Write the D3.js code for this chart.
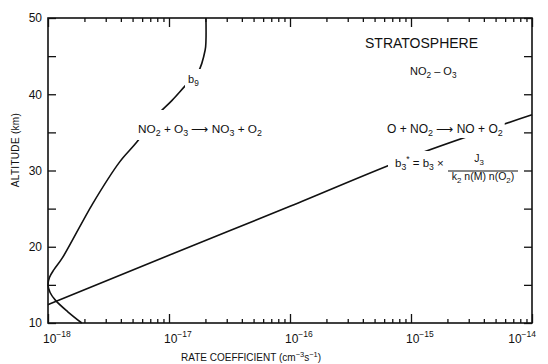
<!DOCTYPE html>
<html>
<head>
<meta charset="utf-8">
<script src="https://cdn.jsdelivr.net/npm/d3@7"></script>
<style>
  html, body { margin: 0; padding: 0; background: #fff; }
  svg { display: block; }
  text { font-family: "Liberation Sans", Arial, sans-serif; fill: #111; }
</style>
</head>
<body>
<svg id="chart" width="548" height="364"></svg>
<script>
// ---------------- data ----------------
// rate coefficient axis (log) decades
const decadeExponents = [-18, -17, -16, -15, -14];
const altitudeTicks = [10, 15, 20, 25, 30, 35, 40, 45, 50];
const altitudeLabels = [10, 20, 30, 40, 50];

// b9 : NO2 + O3 -> NO3 + O2 (rate, altitude km)
const b9Rate = [2.02e-17, 2.02e-17, 1.99e-17, 1.74e-17, 1.36e-17, 1.06e-17, 7.7e-18, 5.4e-18, 3.9e-18, 2.35e-18, 1.31e-18, 1.12e-18, 1.03e-18, 1.0e-18, 1.04e-18, 1.15e-18, 1.45e-18, 1.9e-18];
const b9Alt  = [50, 47, 45.8, 42.9, 41.1, 39.2, 37.0, 33.7, 31.1, 25.7, 18.5, 17.0, 16.0, 15.0, 14.0, 13.0, 11.5, 10];

// b3* effective rate (rate, altitude km)
const b3Rate = [1e-18, 1e-17, 1e-16, 1e-15, 1e-14];
const b3Alt  = [12.4, 18.9, 25.3, 31.8, 37.3];

// ---------------- layout ----------------
const svg = d3.select("#chart");
const L = 48, R = 532, T = 18, B = 323;

const x = d3.scaleLog().domain([1e-18, 1e-14]).range([L, R]);
const y = d3.scaleLinear().domain([10, 50]).range([B, T]);

const majors = decadeExponents.map(e => Math.pow(10, e));
const minors = [];
decadeExponents.slice(0, -1).forEach(e => {
  for (let k = 2; k <= 9; k++) minors.push(k * Math.pow(10, e));
});

function styleAxis(g) {
  g.selectAll("path.domain").remove();
  g.selectAll(".tick line").attr("stroke", "#111").attr("stroke-width", 1.3);
}

// bottom axis
svg.append("g").attr("transform", `translate(0,${B})`)
  .call(d3.axisBottom(x).tickValues(majors).tickSize(-9).tickFormat(""))
  .call(styleAxis);
svg.append("g").attr("transform", `translate(0,${B})`)
  .call(d3.axisBottom(x).tickValues(minors).tickSize(-4).tickFormat(""))
  .call(styleAxis);
// top axis
svg.append("g").attr("transform", `translate(0,${T})`)
  .call(d3.axisTop(x).tickValues(majors).tickSize(-9).tickFormat(""))
  .call(styleAxis);
svg.append("g").attr("transform", `translate(0,${T})`)
  .call(d3.axisTop(x).tickValues(minors).tickSize(-4).tickFormat(""))
  .call(styleAxis);
// left axis
const leftAxis = svg.append("g").attr("transform", `translate(${L},0)`)
  .call(d3.axisLeft(y).tickValues(altitudeTicks).tickSize(-8).tickPadding(6)
    .tickFormat(d => altitudeLabels.includes(d) ? d : ""))
  .call(styleAxis);
leftAxis.selectAll("text").attr("font-size", 12).attr("fill", "#111")
  .attr("font-family", "Liberation Sans, Arial, sans-serif");
// right axis
svg.append("g").attr("transform", `translate(${R},0)`)
  .call(d3.axisRight(y).tickValues(altitudeTicks).tickSize(-8).tickFormat(""))
  .call(styleAxis);

// frame
svg.append("rect").attr("x", L).attr("y", T).attr("width", R - L).attr("height", B - T)
  .attr("fill", "none").attr("stroke", "#111").attr("stroke-width", 1.6);

// x tick labels 10^n
decadeExponents.forEach((e, i) => {
  const last = i === decadeExponents.length - 1;
  const t = svg.append("text")
    .attr("x", x(Math.pow(10, e)) + (last ? 4 : -5))
    .attr("y", 343)
    .attr("font-size", 12)
    .attr("text-anchor", last ? "end" : "start");
  t.append("tspan").text("10");
  t.append("tspan").attr("font-size", 8.5).attr("dy", -6).text("\u2212" + Math.abs(e));
});

// axis titles
const xt = svg.append("text").attr("x", 181).attr("y", 361).attr("font-size", 10);
xt.append("tspan").text("RATE COEFFICIENT  (cm");
xt.append("tspan").attr("font-size", 7.5).attr("dy", -4).text("\u22123");
xt.append("tspan").attr("dy", 4).text("s");
xt.append("tspan").attr("font-size", 7.5).attr("dy", -4).text("\u22121");
xt.append("tspan").attr("dy", 4).text(")");

svg.append("text").attr("transform", "translate(19,150) rotate(-90)")
  .attr("text-anchor", "middle").attr("font-size", 10).attr("letter-spacing", 0.3)
  .text("ALTITUDE (km)");

// ---------------- curves ----------------
const curves = svg.append("g");
curves.append("path")
  .datum(b9Rate.map((r, i) => [r, b9Alt[i]]))
  .attr("d", d3.line().x(d => x(d[0])).y(d => y(d[1])).curve(d3.curveCatmullRom.alpha(0.5)))
  .attr("fill", "none").attr("stroke", "#111").attr("stroke-width", 1.6);
curves.append("path")
  .datum(b3Rate.map((r, i) => [r, b3Alt[i]]))
  .attr("d", d3.line().x(d => x(d[0])).y(d => y(d[1])).curve(d3.curveMonotoneX))
  .attr("fill", "none").attr("stroke", "#111").attr("stroke-width", 1.6);

// ---------------- labels (with white knock-out behind) ----------------
const masks = svg.append("g");
const labels = svg.append("g");

function richText(px, py, size, segs, pad, anchor) {
  const t = labels.append("text").attr("x", px).attr("y", py).attr("font-size", size);
  if (anchor) t.attr("text-anchor", anchor);
  let shift = 0;
  segs.forEach(s => {
    const [str, kind] = s;
    const target = kind === "sub" ? 3 : kind === "sup" ? -5 : 0;
    const ts = t.append("tspan").text(str).attr("dy", target - shift);
    if (kind) ts.attr("font-size", size * 0.75);
    shift = target;
  });
  if (pad) {
    const bb = t.node().getBBox();
    masks.append("rect")
      .attr("x", bb.x - pad[3]).attr("y", bb.y - pad[0])
      .attr("width", bb.width + pad[1] + pad[3]).attr("height", bb.height + pad[0] + pad[2])
      .attr("fill", "#fff");
  }
  return t;
}

richText(365, 48, 14, [["STRATOSPHERE"]]);
richText(410, 75, 11, [["NO"], ["2", "sub"], [" \u2013 O"], ["3", "sub"]]);
richText(138, 133, 11.8, [["NO"], ["2", "sub"], ["  + O"], ["3", "sub"], [" \u27F6 NO"], ["3", "sub"], [" + O"], ["2", "sub"]], [12, 4, 2, 4]);
richText(387, 133, 12, [["O + NO"], ["2", "sub"], [" \u27F6 NO + O"], ["2", "sub"]], [2, 2, 0, 2]);
richText(188, 83, 11, [["b"], ["9", "sub"]], [4, 3, 2, 3]);

// b3* formula
richText(395, 167, 11.5, [["b"], ["3", "sub"], ["*", "sup"], [" = b"], ["3", "sub"], [" \u00D7"]], [3, 2, 2, 7]);
richText(479, 162, 10.5, [["J"], ["3", "sub"]], null, "middle");
labels.append("line").attr("x1", 448).attr("x2", 518).attr("y1", 171).attr("y2", 171)
  .attr("stroke", "#111").attr("stroke-width", 1.2);
richText(483, 180, 10.5, [["k"], ["2", "sub"], [" n(M) n(O"], ["2", "sub"], [")"]], null, "middle");
</script>
</body>
</html>
